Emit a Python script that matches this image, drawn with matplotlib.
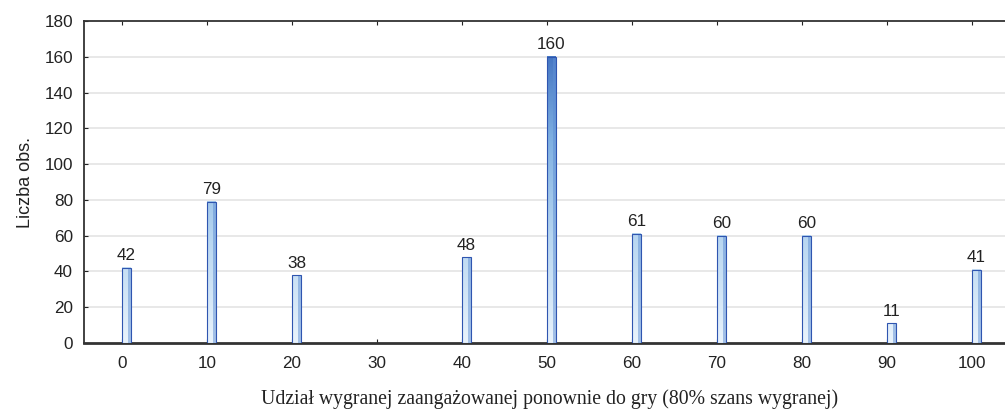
import matplotlib
matplotlib.use("Agg")
import matplotlib.pyplot as plt
import numpy as np
from matplotlib.colors import LinearSegmentedColormap, Normalize

categories = ["0", "10", "20", "30", "40", "50", "60", "70", "80", "90", "100"]
counts = [42, 79, 38, 0, 48, 160, 61, 60, 60, 11, 41]
y_ticks = [0, 20, 40, 60, 80, 100, 120, 140, 160, 180]

plt.rcParams["font.family"] = ["Liberation Sans", "DejaVu Sans"]

W, H = 1005, 411
fig = plt.figure(figsize=(W / 100, H / 100), dpi=100)
left, right, top, bottom = 84, 1015, 21, 343
ax = fig.add_axes([left / W, 1 - bottom / H, (right - left) / W, (bottom - top) / H])

cmap = LinearSegmentedColormap.from_list("bars", ["#e9f3fc", "#b9d7f1", "#7fb0e2", "#3a6bbd"])
norm = Normalize(0, 170)

xpos = np.arange(len(categories))
bw = 0.105
for x, v in zip(xpos, counts):
    if v <= 0:
        continue
    grad = np.linspace(0, v, 256).reshape(-1, 1)
    ax.imshow(grad, cmap=cmap, norm=norm, origin="lower", aspect="auto",
              extent=(x, x + bw, 0, v), zorder=3, interpolation="bilinear")
    # shaded right side of the column
    ax.bar(x + bw * 0.7, v, width=bw * 0.3, align="edge", color="#5f8fd4",
           alpha=0.5, linewidth=0, zorder=4)
    ax.bar(x, v, width=bw, align="edge", facecolor="none", edgecolor="#2f55b0",
           linewidth=0.8, zorder=5)
    ax.text(x + bw / 2, v + 2.5, str(v), ha="center", va="bottom",
            fontsize=12.3, color="#222222", zorder=6)

ax.set_xlim(-0.447, 10 + (right - 972) / 85)
ax.set_ylim(0, 180)
ax.set_xticks(xpos)
ax.set_xticklabels(categories)
ax.set_yticks(y_ticks)
ax.tick_params(axis="both", labelsize=12.3, colors="#222222", direction="in", length=3)
ax.tick_params(axis="x", top=True, pad=9)
ax.tick_params(axis="y", pad=8)

for y in y_ticks[1:-1]:
    ax.axhline(y, color="#e1e1e1", linewidth=1.1, zorder=1)

for s in ["left", "top"]:
    ax.spines[s].set_color("#333333")
    ax.spines[s].set_linewidth(1.3)
ax.spines["bottom"].set_color("#333333")
ax.spines["bottom"].set_linewidth(2)
ax.spines["right"].set_visible(False)

fig.text(25 / W, 1 - 182 / H, "Liczba obs.", rotation=90, ha="center", va="center",
         fontsize=13, color="#222222")
fig.text(550 / W, 1 - 399 / H,
         "Udział wygranej zaangażowanej ponownie do gry (80% szans wygranej)",
         ha="center", va="center", fontsize=14.2, color="#222222",
         family=["Liberation Serif", "DejaVu Serif"])

fig.savefig("out.png", dpi=100)
